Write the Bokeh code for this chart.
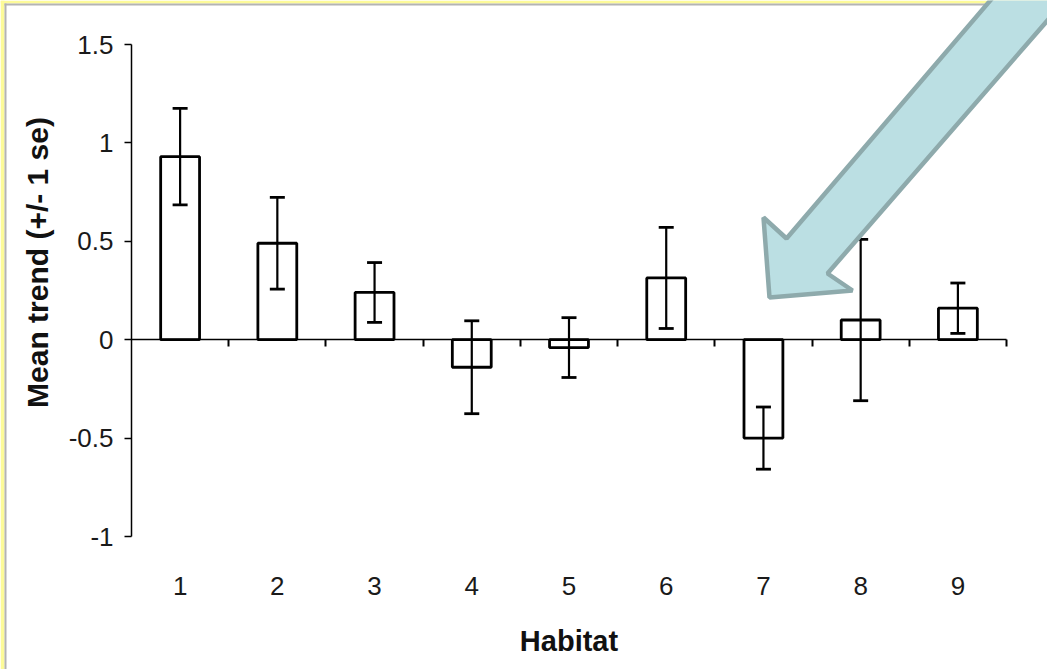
import math
from bokeh.plotting import figure
from bokeh.models import (Range1d, FixedTicker, Whisker, TeeHead, ColumnDataSource,
                          PolyAnnotation, LinearAxis, Label)
from bokeh.embed import file_html
from bokeh.resources import INLINE

# ---- data ----
habitat = [1, 2, 3, 4, 5, 6, 7, 8, 9]
mean_trend = [0.93, 0.49, 0.24, -0.14, -0.04, 0.314, -0.50, 0.10, 0.16]
se = [0.245, 0.233, 0.152, 0.236, 0.152, 0.257, 0.158, 0.41, 0.128]
y_ticks = [-1, -0.5, 0, 0.5, 1, 1.5]
y_tick_labels = ["-1", "-0.5", "0", "0.5", "1", "1.5"]
x_title = "Habitat"
y_title = "Mean trend (+/- 1 se)"

# ---- layout (pixel geometry of the plot area inside the canvas) ----
W, H = 1047, 669
FL, FR, FT, FB = 131, 1006, 44, 536
X0, X1 = 0.5, 9.5
Y0, Y1 = -1, 1.5

def dx(px):
    return X0 + (px - FL) / (FR - FL) * (X1 - X0)

def dy(py):
    return Y1 - (py - FT) / (FB - FT) * (Y1 - Y0)

FONT = "Liberation Sans"

p = figure(width=W, height=H,
           x_range=Range1d(dx(0), dx(W)), y_range=Range1d(dy(H), dy(0)),
           x_axis_type=None, y_axis_type=None,
           output_backend="svg", toolbar_location=None, title=None,
           min_border=0, min_border_left=0, min_border_right=0,
           min_border_top=0, min_border_bottom=0)
p.outline_line_color = None
p.background_fill_color = "white"
p.border_fill_color = "white"

# y axis at the left edge of the plot area
yax = LinearAxis(fixed_location=X0, bounds=(Y0, Y1), ticker=FixedTicker(ticks=y_ticks),
                 major_label_overrides={t: l for t, l in zip(y_ticks, y_tick_labels)})
yax.axis_line_color = "black"
yax.axis_line_width = 1.5
yax.major_tick_line_color = "black"
yax.major_tick_line_width = 1.5
yax.major_tick_out = 7
yax.major_tick_in = 0
yax.minor_tick_line_color = None
yax.major_label_text_font = FONT
yax.major_label_text_font_size = "26px"
yax.major_label_text_color = "#1a1a1a"
yax.major_label_standoff = 11
p.add_layout(yax, "left")

# horizontal axis line at zero, ticks at category boundaries
bounds = [h + 0.5 for h in habitat]
zax = LinearAxis(fixed_location=0, bounds=(X0, X1), ticker=FixedTicker(ticks=bounds),
                 major_label_overrides={b: "" for b in bounds})
zax.axis_line_color = "black"
zax.axis_line_width = 1.5
zax.major_tick_line_color = "black"
zax.major_tick_line_width = 2
zax.major_tick_out = 7
zax.major_tick_in = 0
zax.minor_tick_line_color = None
p.add_layout(zax, "below")

# category labels along the bottom of the plot area
cax = LinearAxis(fixed_location=Y0, bounds=(X0, X1), ticker=FixedTicker(ticks=habitat))
cax.axis_line_color = None
cax.major_tick_line_color = None
cax.minor_tick_line_color = None
cax.major_label_text_font = FONT
cax.major_label_text_font_size = "26px"
cax.major_label_text_color = "#1a1a1a"
cax.major_label_standoff = 34
cax.axis_label = x_title
cax.axis_label_text_font = FONT
cax.axis_label_text_font_size = "29px"
cax.axis_label_text_font_style = "bold"
cax.axis_label_text_color = "#111111"
cax.axis_label_standoff = 27
p.add_layout(cax, "below")

# y axis title
p.add_layout(Label(x=dx(37), y=dy(262), text=y_title, angle=math.pi / 2,
                   text_align="center", text_baseline="middle",
                   text_font=FONT, text_font_size="30px", text_font_style="bold",
                   text_color="#111111"))

# bars
p.vbar(x=habitat, top=mean_trend, bottom=0, width=0.4,
       fill_color="white", line_color="black", line_width=2.8)

# error bars (drawn over the bars)
src = ColumnDataSource(dict(
    x=habitat,
    upper=[m + s for m, s in zip(mean_trend, se)],
    lower=[m - s for m, s in zip(mean_trend, se)],
))
p.add_layout(Whisker(base="x", upper="upper", lower="lower", source=src,
                     level="overlay",
                     line_color="black", line_width=2.2,
                     upper_head=TeeHead(size=15, line_width=2.8, line_color="black"),
                     lower_head=TeeHead(size=15, line_width=2.8, line_color="black")))

# slide frame (yellow + grey edge, top and left)
def poly(pxs, pys, fill, line=None, lw=0):
    p.add_layout(PolyAnnotation(xs=[dx(v) for v in pxs], ys=[dy(v) for v in pys],
                                fill_color=fill, fill_alpha=1, level="overlay",
                                line_color=line, line_width=lw, line_alpha=1 if line else 0))

poly([0, W, W, 0], [0, 0, 3, 3], "#fdfb99")
poly([0, 4, 4, 0], [0, 0, H, H], "#fdfb99")
poly([4, W, W, 4], [3, 3, 5, 5], "#b4b4b4")
poly([4, 6, 6, 4], [3, 3, H, H], "#b4b4b4")

# highlight arrow (canvas pixel positions)
arrow_x = [769, 852, 827, 1100, 1024, 786, 763]
arrow_y = [297, 290, 273, -41, -40, 238, 217]
poly(arrow_x, arrow_y, "#bbdfe3", "#8eaaac", 4.5)

open("out.html", "w").write(file_html(p, INLINE))
